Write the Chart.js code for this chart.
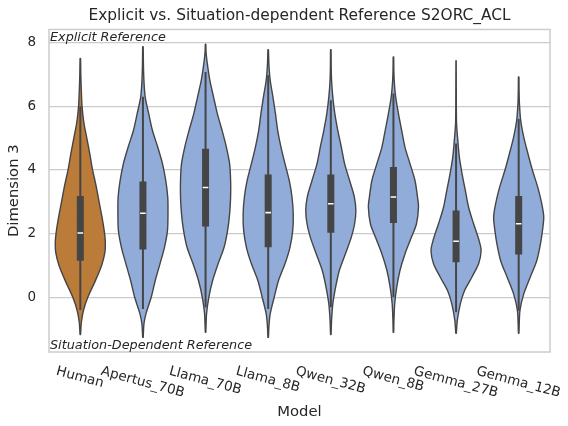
<!DOCTYPE html>
<html>
<head>
<meta charset="utf-8">
<script src="https://cdn.jsdelivr.net/npm/chart.js@4.4.0/dist/chart.umd.min.js"></script>
<style>
  html, body { margin: 0; padding: 0; background: #fff; }
  canvas { display: block; }
</style>
</head>
<body>
<canvas id="violinChart" width="568" height="426"></canvas>
<script>
// categories
const models = ['Human', 'Apertus_70B', 'Llama_70B', 'Llama_8B', 'Qwen_32B', 'Qwen_8B', 'Gemma_27B', 'Gemma_12B'];

// inner box stats (Dimension 3)
const q1Values = [1.15, 1.50, 2.22, 1.57, 2.03, 2.33, 1.10, 1.34];
const medianValues = [2.02, 2.64, 3.45, 2.66, 2.94, 3.15, 1.76, 2.31];
const q3Values = [3.18, 3.64, 4.67, 3.86, 3.86, 4.09, 2.73, 3.18];
const whiskerLow = [-0.40, -0.37, -0.31, -0.37, -0.31, 0.00, -0.47, -0.42];
const whiskerHigh = [6.00, 6.30, 7.08, 6.98, 6.19, 6.40, 4.83, 5.60];

// violin profiles: [value, relative density]
const humanProfile = [[-1.17, 0.01], [-0.8, 0.04], [-0.4, 0.13], [0.0, 0.30], [0.5, 0.59], [1.0, 0.85], [1.4, 0.98], [1.7, 1.0], [2.0, 0.97], [2.5, 0.87], [3.0, 0.75], [3.5, 0.63], [4.0, 0.49], [4.5, 0.38], [5.0, 0.26], [5.5, 0.14], [6.0, 0.07], [6.5, 0.04], [7.0, 0.02], [7.5, 0.01]];
const apertusProfile = [[-1.26, 0.01], [-0.84, 0.04], [-0.52, 0.12], [0.0, 0.33], [0.52, 0.49], [1.05, 0.68], [1.57, 0.86], [2.1, 0.98], [2.73, 1.0], [3.15, 0.99], [3.67, 0.91], [4.2, 0.78], [4.72, 0.59], [5.24, 0.38], [5.77, 0.23], [6.29, 0.09], [6.8, 0.04], [7.3, 0.02], [7.87, 0.01]];
const llama70Profile = [[-1.10, 0.01], [-0.52, 0.04], [0.0, 0.13], [0.52, 0.28], [1.05, 0.50], [1.57, 0.74], [2.1, 0.88], [2.62, 0.96], [3.15, 1.0], [3.67, 1.0], [4.2, 0.96], [4.72, 0.83], [5.24, 0.66], [5.77, 0.47], [6.29, 0.32], [6.82, 0.17], [7.34, 0.07], [7.7, 0.02], [7.95, 0.01]];
const llama8Profile = [[-1.26, 0.01], [-0.9, 0.03], [-0.52, 0.08], [0.0, 0.24], [0.52, 0.41], [1.05, 0.67], [1.57, 0.87], [2.1, 0.98], [2.62, 1.0], [3.15, 0.95], [3.67, 0.84], [4.2, 0.67], [4.72, 0.51], [5.24, 0.38], [5.77, 0.29], [6.29, 0.19], [6.82, 0.08], [7.3, 0.03], [7.78, 0.01]];
const qwen32Profile = [[-1.17, 0.01], [-0.73, 0.03], [-0.21, 0.08], [0.31, 0.19], [0.84, 0.34], [1.36, 0.58], [1.89, 0.82], [2.31, 0.95], [2.73, 1.0], [3.15, 0.94], [3.67, 0.75], [4.2, 0.55], [4.72, 0.42], [5.24, 0.28], [5.77, 0.16], [6.29, 0.08], [6.82, 0.03], [7.3, 0.015], [7.78, 0.01]];
const qwen8Profile = [[-1.10, 0.01], [-0.73, 0.02], [-0.21, 0.05], [0.31, 0.13], [0.84, 0.26], [1.36, 0.46], [1.89, 0.72], [2.31, 0.92], [2.83, 1.0], [3.15, 0.96], [3.67, 0.86], [4.2, 0.66], [4.72, 0.46], [5.24, 0.33], [5.77, 0.20], [6.29, 0.09], [6.82, 0.03], [7.2, 0.015], [7.55, 0.01]];
const gemma27Profile = [[-1.13, 0.01], [-0.73, 0.05], [-0.21, 0.17], [0.21, 0.34], [0.63, 0.63], [1.05, 0.90], [1.47, 1.0], [1.78, 0.92], [2.31, 0.70], [2.83, 0.50], [3.36, 0.37], [3.88, 0.24], [4.41, 0.13], [4.93, 0.07], [5.45, 0.02], [6.2, 0.01], [7.43, 0.005]];
const gemma12Profile = [[-1.13, 0.01], [-0.42, 0.05], [0.1, 0.20], [0.63, 0.46], [1.15, 0.72], [1.68, 0.87], [2.1, 0.95], [2.52, 1.0], [2.94, 0.92], [3.46, 0.76], [3.99, 0.55], [4.51, 0.37], [5.04, 0.20], [5.56, 0.08], [6.08, 0.03], [6.5, 0.015], [6.92, 0.01]];
const profiles = [humanProfile, apertusProfile, llama70Profile, llama8Profile, qwen32Profile, qwen8Profile, gemma27Profile, gemma12Profile];

// y tick labels
const yTicks = [0, 2, 4, 6, 8];

const FONT = '"DejaVu Sans", sans-serif';
const TEXT = '#262626';
const LINE = '#454545';
const fillColors = ['#bb7b39', '#91acd8', '#91acd8', '#91acd8', '#91acd8', '#91acd8', '#91acd8', '#91acd8'];
const HALF_WIDTH = 0.4;

function violinPoints(i, profile) {
  const bottom = profile[0][0];
  const top = profile[profile.length - 1][0];
  const right = profile.map(([y, d]) => ({ x: i + d * HALF_WIDTH, y }));
  const left = profile.slice().reverse().map(([y, d]) => ({ x: i - d * HALF_WIDTH, y }));
  return [{ x: i, y: bottom }, ...right, { x: i, y: top }, ...left, { x: i, y: bottom }];
}

function rangeSegments(lo, hi) {
  const pts = [];
  models.forEach((m, i) => {
    pts.push({ x: i, y: lo[i] }, { x: i, y: hi[i] }, { x: i, y: null });
  });
  return pts;
}

const violinDatasets = profiles.map((p, i) => ({
  label: models[i],
  data: violinPoints(i, p),
  fill: 'shape',
  backgroundColor: fillColors[i],
  borderColor: LINE,
  borderWidth: 1.4,
  tension: 0.3,
  pointRadius: 0,
  order: 3
}));

const datasets = [
  {
    label: 'median',
    data: medianValues.map((v, i) => ({ x: i, y: v })),
    showLine: false,
    pointStyle: 'line',
    pointRadius: 2.8,
    pointBorderColor: '#ffffff',
    pointBorderWidth: 1.6,
    order: 0
  },
  {
    label: 'box',
    data: rangeSegments(q1Values, q3Values),
    borderColor: LINE,
    borderWidth: 7,
    borderCapStyle: 'butt',
    pointRadius: 0,
    spanGaps: false,
    order: 1
  },
  {
    label: 'whisker',
    data: rangeSegments(whiskerLow, whiskerHigh),
    borderColor: LINE,
    borderWidth: 2,
    pointRadius: 0,
    spanGaps: false,
    order: 2
  },
  ...violinDatasets
];

const framePlugin = {
  id: 'frame',
  beforeDatasetsDraw(chart) {
    const { ctx, chartArea: a } = chart;
    ctx.save();
    ctx.strokeStyle = '#cccccc';
    ctx.lineWidth = 1.5;
    ctx.strokeRect(a.left, a.top, a.right - a.left, a.bottom - a.top);
    ctx.restore();
  },
  afterDraw(chart) {
    const { ctx, chartArea: a } = chart;
    const xScale = chart.scales.x;
    ctx.save();
    // rotated category labels
    ctx.font = '13.5px ' + FONT;
    ctx.fillStyle = TEXT;
    ctx.textAlign = 'center';
    ctx.textBaseline = 'alphabetic';
    const ang = 15 * Math.PI / 180;
    const lineH = 15.7;
    models.forEach((m, i) => {
      const w = ctx.measureText(m).width;
      const h = w * Math.sin(ang) + lineH * Math.cos(ang);
      const cx = xScale.getPixelForValue(i);
      const cy = a.bottom + 10.5 + h / 2;
      ctx.save();
      ctx.translate(cx, cy);
      ctx.rotate(ang);
      ctx.fillText(m, 0, 4.7);
      ctx.restore();
    });
    // corner annotations
    ctx.font = 'italic 12.8px ' + FONT;
    ctx.textAlign = 'left';
    ctx.fillText('Explicit Reference', a.left + 1, a.top + 12);
    ctx.fillText('Situation-Dependent Reference', a.left + 1, a.bottom - 3);
    ctx.restore();
  }
};

new Chart(document.getElementById('violinChart'), {
  type: 'line',
  data: { datasets },
  options: {
    responsive: false,
    animation: false,
    devicePixelRatio: 1,
    layout: { padding: { left: 0, right: 18, top: 0, bottom: 0 } },
    plugins: {
      legend: { display: false },
      tooltip: { enabled: false },
      title: {
        display: true,
        fullSize: false,
        text: 'Explicit vs. Situation-dependent Reference S2ORC_ACL',
        color: TEXT,
        font: { family: FONT, size: 15.4, weight: 'normal' },
        padding: { top: 6.5, bottom: 4.5 }
      }
    },
    scales: {
      x: {
        type: 'linear',
        min: -0.5,
        max: 7.5,
        grid: { display: false },
        border: { display: false },
        ticks: { display: false },
        title: {
          display: true,
          text: 'Model',
          color: TEXT,
          font: { family: FONT, size: 14.8 },
          padding: { top: 0, bottom: 5 }
        },
        afterFit(scale) { scale.height = 74; }
      },
      y: {
        type: 'linear',
        min: -1.72,
        max: 8.415,
        afterBuildTicks(scale) { scale.ticks = yTicks.map(v => ({ value: v })); },
        grid: { color: '#cccccc', lineWidth: 1.2, drawTicks: false },
        border: { display: false },
        ticks: { padding: 13, color: TEXT, font: { family: FONT, size: 13.5 } },
        title: {
          display: true,
          text: 'Dimension 3',
          color: TEXT,
          font: { family: FONT, size: 14.8 },
          padding: { top: 5.5, bottom: 0 }
        },
        afterFit(scale) { scale.width = 49; }
      }
    }
  },
  plugins: [framePlugin]
});
</script>
</body>
</html>
